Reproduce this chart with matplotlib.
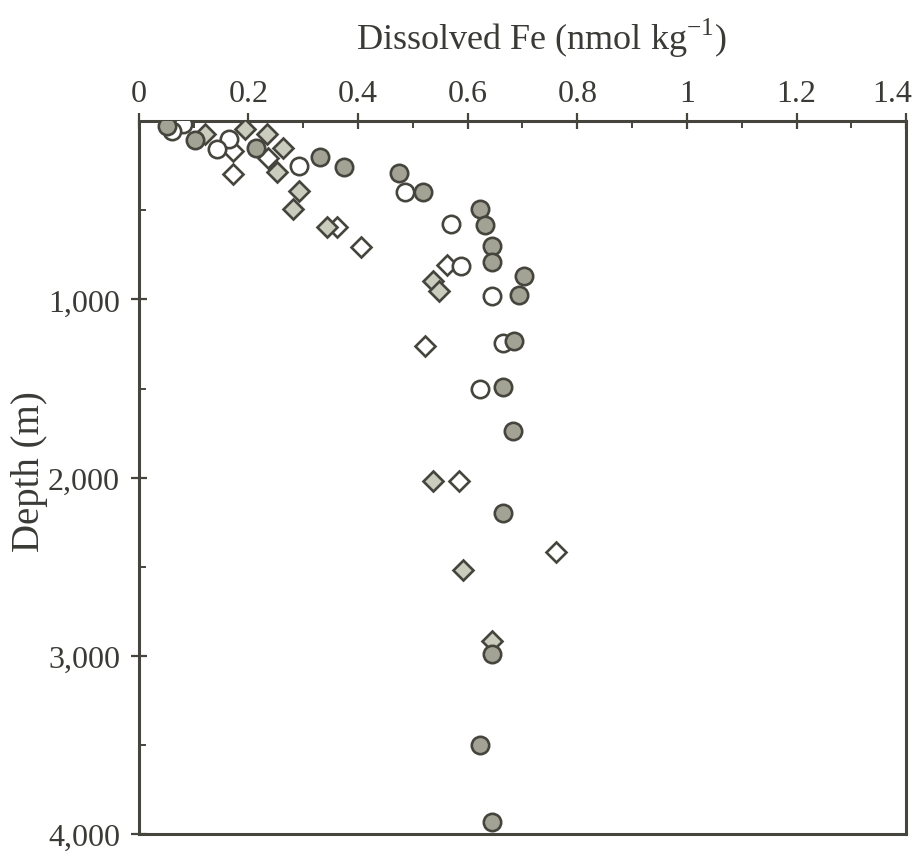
import matplotlib
matplotlib.use("Agg")
import matplotlib.pyplot as plt
from matplotlib.ticker import FixedLocator
import matplotlib.transforms as mtransforms

# Filled (gray) circles
fc_fe = [0.051, 0.102, 0.214, 0.331, 0.375, 0.474, 0.519, 0.622, 0.631, 0.644,
         0.644, 0.702, 0.693, 0.684, 0.665, 0.682, 0.665, 0.645, 0.623, 0.645]
fc_depth = [30, 107, 151, 202, 258, 292, 398, 494, 583, 701,
            791, 869, 976, 1234, 1492, 1739, 2199, 2989, 3500, 3932]

# Open circles
oc_fe = [0.080, 0.060, 0.165, 0.143, 0.293, 0.486, 0.570, 0.587, 0.645, 0.665, 0.623]
oc_depth = [17, 56, 101, 157, 252, 398, 578, 813, 981, 1245, 1503]

# Filled (light gray) diamonds
fd_fe = [0.194, 0.121, 0.234, 0.263, 0.252, 0.293, 0.282, 0.344, 0.536, 0.548,
         0.536, 0.592, 0.645]
fd_depth = [45, 73, 73, 151, 286, 393, 494, 595, 897, 953,
            2019, 2518, 2916]

# Open diamonds
od_fe = [0.172, 0.236, 0.172, 0.362, 0.406, 0.563, 0.523, 0.585, 0.762]
od_depth = [168, 208, 297, 595, 707, 808, 1262, 2019, 2417]

x_ticks = [0, 0.2, 0.4, 0.6, 0.8, 1.0, 1.2, 1.4]
x_ticklabels = ["0", "0.2", "0.4", "0.6", "0.8", "1", "1.2", "1.4"]
y_ticks = [1000, 2000, 3000, 4000]
y_ticklabels = ["1,000", "2,000", "3,000", "4,000"]

plt.rcParams['font.family'] = ['Liberation Serif', 'DejaVu Serif']
plt.rcParams['mathtext.fontset'] = 'custom'
plt.rcParams['mathtext.rm'] = 'Liberation Serif'

text_c = '#3a3a36'
edge_c = '#45453e'

fig = plt.figure(figsize=(9.19, 8.54), dpi=100)
ax = fig.add_axes([0.151, 0.022, 0.835, 0.835])

ms_c = 12.5
ms_d = 9.8
mew = 1.9
ax.plot(od_fe, od_depth, 'D', ms=ms_d, mfc='white', mec=edge_c, mew=mew, ls='none', zorder=3)
ax.plot(fd_fe, fd_depth, 'D', ms=ms_d, mfc='#caccbe', mec=edge_c, mew=mew, ls='none', zorder=3)
ax.plot(oc_fe, oc_depth, 'o', ms=ms_c, mfc='white', mec=edge_c, mew=mew, ls='none', zorder=4)
ax.plot(fc_fe, fc_depth, 'o', ms=ms_c, mfc='#a2a394', mec=edge_c, mew=mew, ls='none', zorder=4)

ax.set_xlim(0, 1.4)
ax.set_ylim(4000, 0)

ax.xaxis.set_ticks_position('top')
ax.xaxis.set_label_position('top')
ax.set_xticks(x_ticks)
ax.set_xticklabels(x_ticklabels)
ax.xaxis.set_minor_locator(FixedLocator([0.1, 0.3, 0.5, 0.7, 0.9, 1.1, 1.3]))
ax.set_yticks(y_ticks)
ax.set_yticklabels(y_ticklabels)
ax.yaxis.set_minor_locator(FixedLocator([500, 1500, 2500, 3500]))

ax.tick_params(axis='both', which='major', direction='inout', length=11, width=1.6,
               color=edge_c, labelsize=23, labelcolor=text_c)
ax.tick_params(axis='x', which='major', pad=4)
ax.tick_params(axis='y', which='major', pad=8)
ax.tick_params(axis='both', which='minor', direction='in', length=5, width=1.4, color=edge_c)
ax.tick_params(top=True, bottom=False, right=False, left=True)
ax.tick_params(which='minor', top=True, bottom=False, right=False, left=True)

# shift the last x tick label left so it stays inside the figure, as in the reference
last = ax.get_xticklabels()[-1]
last.set_transform(last.get_transform() + mtransforms.ScaledTranslation(-10 / 72, 0, fig.dpi_scale_trans))

for sp in ax.spines.values():
    sp.set_color(edge_c)
    sp.set_linewidth(2.2)

ax.set_xlabel(r'Dissolved Fe (nmol kg$^{-1}$)', fontsize=26, color=text_c)
ax.xaxis.label.set_va('bottom')
ax.xaxis.set_label_coords(0.525, 1.0 + 62 / (0.835 * 854))

ax.set_ylabel('Depth (m)', fontsize=28, color=text_c)
ax.yaxis.label.set_va('center')
ax.yaxis.set_label_coords(-0.142, 0.51)

fig.savefig('out.png', dpi=100)
